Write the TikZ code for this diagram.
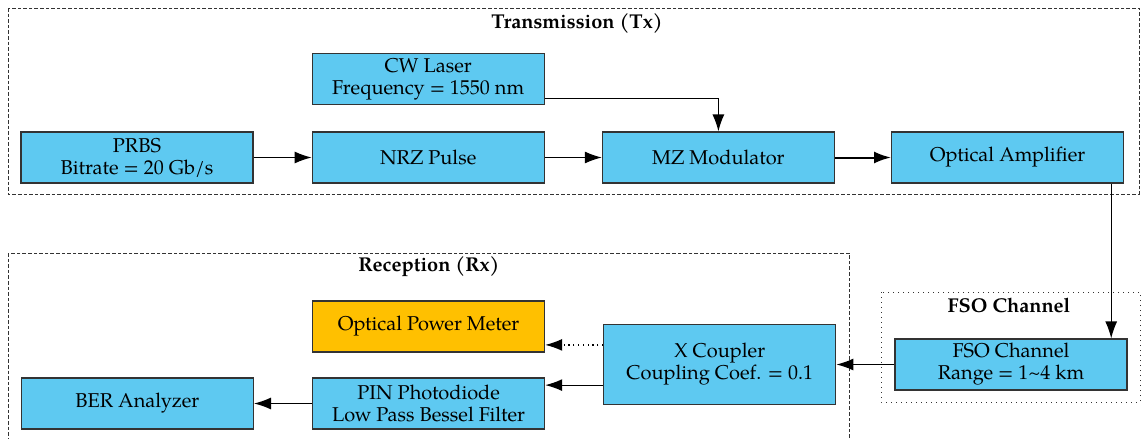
\documentclass[tikz,border=0pt]{standalone}
\usepackage{fontspec}
\setmainfont{texgyrepagella}[Extension=.otf,UprightFont=*-regular,BoldFont=*-bold,ItalicFont=*-italic,BoldItalicFont=*-bolditalic]
\usepackage{tikz}
\usetikzlibrary{arrows.meta,positioning}

\definecolor{skyblue}{RGB}{94,201,241}
\definecolor{amber}{RGB}{255,192,0}

\tikzset{
  blk/.style={draw=black!80, line width=0.6pt, fill=skyblue, minimum width=116pt, minimum height=25.5pt,
    inner sep=0pt, align=center, font=\fontsize{10}{11}\selectfont},
  arr/.style={-{Latex[length=8.5pt,width=6pt]}, line width=0.6pt},
  frame/.style={draw=black!80, dash pattern=on 1.8pt off 1pt, line width=0.5pt},
  title/.style={font=\fontsize{10}{11}\selectfont\bfseries}
}

\begin{document}
\begin{tikzpicture}
\useasboundingbox (0,0) rectangle (570.5pt,-219.5pt);
\draw[frame] (4pt,-4pt) rectangle (569.5pt,-97pt);
\draw[frame] (4.2pt,-126.5pt) rectangle (424.5pt,-230pt);
\draw[draw=black!80, dash pattern=on 0.5pt off 2pt, line width=0.5pt] (440.5pt,-146pt) rectangle (570pt,-201pt);
\node[title] (tx) at (288.5pt,-11.5pt) {Transmission (Tx)};
\node[title] (rx) at (214.5pt,-133.5pt) {Reception (Rx)};
\node[title] (ch) at (504.5pt,-152.5pt) {FSO Channel};

\node[blk] (prbs) at (68.5pt,-78.75pt) {PRBS\\Bitrate = 20 Gb/s};
\node[blk, right=29pt of prbs] (nrz) {NRZ Pulse};
\node[blk, right=28.5pt of nrz] (mz) {MZ Modulator};
\node[blk, right=28pt of mz] (oa) {Optical Amplifier};
\node[blk, above=13pt of nrz] (cw) {CW Laser\\Frequency = 1550 nm};
\node[blk] (fso) at (505.5pt,-182.25pt) {FSO Channel\\Range = 1\textasciitilde4 km};
\node[blk, minimum height=40pt, left=29pt of fso] (xc) {X Coupler\\Coupling Coef. = 0.1};
\node[blk, fill=amber, left=29pt of xc, yshift=19pt] (opm) {Optical Power Meter};
\node[blk, left=29pt of xc, yshift=-19.5pt] (pin) {PIN Photodiode\\Low Pass Bessel Filter};
\node[blk, left=29pt of pin] (ber) {BER Analyzer};

\draw[arr] (prbs) -- (nrz);
\draw[arr] (nrz) -- (mz);
\draw[arr, line width=1pt] (mz) -- (oa);
\draw[arr] ([yshift=3.5pt]cw.south east) -| (mz.north);
\draw[arr] ([xshift=-6.5pt]oa.south east) -- ([xshift=-6.5pt]oa.south east |- fso.north);
\draw[arr] (fso) -- (xc);
\draw[arr, dash pattern=on 0.6pt off 1.8pt] ([yshift=-10.5pt]xc.north west) -- ([yshift=-10.5pt]xc.north west -| opm.east);
\draw[arr] ([yshift=10pt]xc.south west) -- ([yshift=10pt]xc.south west -| pin.east);
\draw[arr] (pin) -- (ber);
\end{tikzpicture}
\end{document}
